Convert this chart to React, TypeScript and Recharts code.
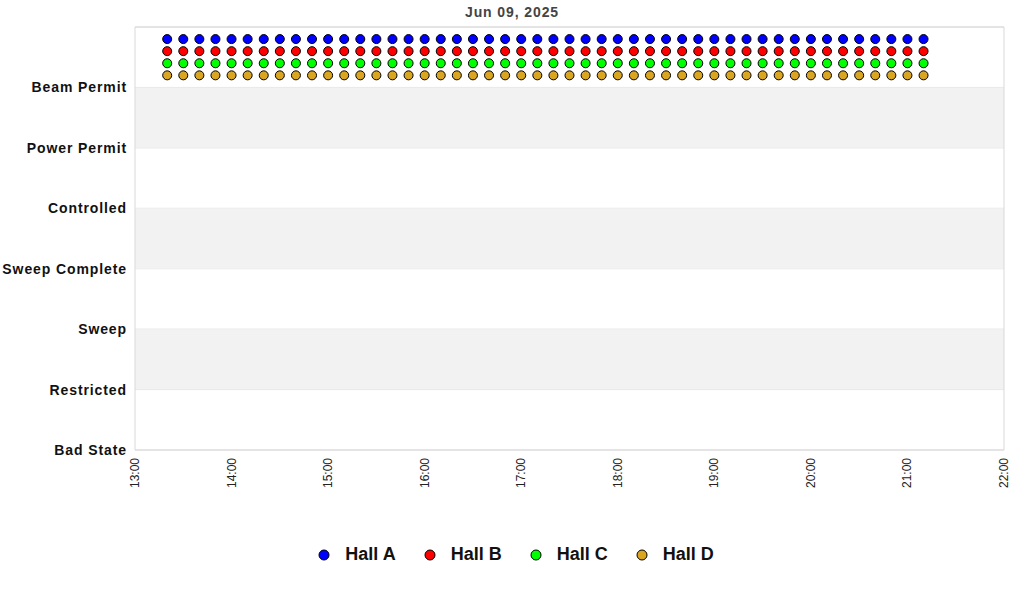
import React from "react"
import { ScatterChart, Scatter, XAxis, YAxis, CartesianGrid, ReferenceArea, Legend } from "recharts"

// minutes after midnight, one sample every 10 min
const times = [
  800, 810, 820, 830, 840, 850, 860, 870, 880, 890, 900, 910,
  920, 930, 940, 950, 960, 970, 980, 990, 1000, 1010, 1020, 1030,
  1040, 1050, 1060, 1070, 1080, 1090, 1100, 1110, 1120, 1130, 1140, 1150,
  1160, 1170, 1180, 1190, 1200, 1210, 1220, 1230, 1240, 1250, 1260, 1270,
]

// state index + small per-hall offset so the rows don't overlap
const hallA = [
  6.8, 6.8, 6.8, 6.8, 6.8, 6.8, 6.8, 6.8, 6.8, 6.8, 6.8, 6.8,
  6.8, 6.8, 6.8, 6.8, 6.8, 6.8, 6.8, 6.8, 6.8, 6.8, 6.8, 6.8,
  6.8, 6.8, 6.8, 6.8, 6.8, 6.8, 6.8, 6.8, 6.8, 6.8, 6.8, 6.8,
  6.8, 6.8, 6.8, 6.8, 6.8, 6.8, 6.8, 6.8, 6.8, 6.8, 6.8, 6.8,
]
const hallB = [
  6.6, 6.6, 6.6, 6.6, 6.6, 6.6, 6.6, 6.6, 6.6, 6.6, 6.6, 6.6,
  6.6, 6.6, 6.6, 6.6, 6.6, 6.6, 6.6, 6.6, 6.6, 6.6, 6.6, 6.6,
  6.6, 6.6, 6.6, 6.6, 6.6, 6.6, 6.6, 6.6, 6.6, 6.6, 6.6, 6.6,
  6.6, 6.6, 6.6, 6.6, 6.6, 6.6, 6.6, 6.6, 6.6, 6.6, 6.6, 6.6,
]
const hallC = [
  6.4, 6.4, 6.4, 6.4, 6.4, 6.4, 6.4, 6.4, 6.4, 6.4, 6.4, 6.4,
  6.4, 6.4, 6.4, 6.4, 6.4, 6.4, 6.4, 6.4, 6.4, 6.4, 6.4, 6.4,
  6.4, 6.4, 6.4, 6.4, 6.4, 6.4, 6.4, 6.4, 6.4, 6.4, 6.4, 6.4,
  6.4, 6.4, 6.4, 6.4, 6.4, 6.4, 6.4, 6.4, 6.4, 6.4, 6.4, 6.4,
]
const hallD = [
  6.2, 6.2, 6.2, 6.2, 6.2, 6.2, 6.2, 6.2, 6.2, 6.2, 6.2, 6.2,
  6.2, 6.2, 6.2, 6.2, 6.2, 6.2, 6.2, 6.2, 6.2, 6.2, 6.2, 6.2,
  6.2, 6.2, 6.2, 6.2, 6.2, 6.2, 6.2, 6.2, 6.2, 6.2, 6.2, 6.2,
  6.2, 6.2, 6.2, 6.2, 6.2, 6.2, 6.2, 6.2, 6.2, 6.2, 6.2, 6.2,
]

const stateLabels = ["Bad State", "Restricted", "Sweep", "Sweep Complete", "Controlled", "Power Permit", "Beam Permit"]
const stateTicks = [0, 1, 2, 3, 4, 5, 6]
const hourTicks = [780, 840, 900, 960, 1020, 1080, 1140, 1200, 1260, 1320]
const bands = [[1, 2], [3, 4], [5, 6]]

const series = [
  { name: "Hall A", color: "#0000ff", values: hallA },
  { name: "Hall B", color: "#ff0000", values: hallB },
  { name: "Hall C", color: "#00ff00", values: hallC },
  { name: "Hall D", color: "#daa520", values: hallD },
]

const fmtHour = (m: number) => `${Math.floor(m / 60)}:${String(m % 60).padStart(2, "0")}`

const Dot = (color: string) => (p: any) => (
  <circle cx={p.cx} cy={p.cy} r={4.5} fill={color} stroke="#000" strokeWidth={1} />
)

const XTick = (p: any) => (
  <text
    x={p.x}
    y={p.y}
    transform={`rotate(-90 ${p.x} ${p.y})`}
    textAnchor="end"
    dominantBaseline="central"
    fontSize={12}
    fill="#222"
  >
    {fmtHour(p.payload.value)}
  </text>
)

const LegendBox = () => (
  <div style={{ display: "flex", justifyContent: "center", alignItems: "center", gap: 28 }}>
    {series.map((s) => (
      <div key={s.name} style={{ display: "flex", alignItems: "center" }}>
        <svg width={12} height={12} style={{ marginRight: 15 }}>
          <circle cx={6} cy={6} r={5} fill={s.color} stroke="#000" strokeWidth={1} />
        </svg>
        <span style={{ fontSize: 18, fontWeight: "bold", color: "#111" }}>{s.name}</span>
      </div>
    ))}
  </div>
)

export default function App() {
  return (
    <div style={{ position: "absolute", left: 0, top: 0, width: 1024, height: 600, fontFamily: "'Liberation Sans', Arial, sans-serif", background: "#fff" }}>
      <div style={{ position: "absolute", top: 4, left: 0, width: 1024, textAlign: "center", fontSize: 14, fontWeight: "bold", letterSpacing: 0.9, color: "#444" }}>
        Jun 09, 2025
      </div>
      <ScatterChart width={1024} height={600} margin={{ top: 27, right: 20, bottom: 0, left: 0 }}>
        {bands.map(([a, b]) => (
          <ReferenceArea key={a} x1={780} x2={1320} y1={a} y2={b} fill="#f2f2f2" fillOpacity={1} stroke="none" />
        ))}
        <CartesianGrid vertical={false} stroke="#e0e0e0" />
        <ReferenceArea x1={780} x2={1320} y1={0} y2={7} fill="none" stroke="#d9d9d9" strokeWidth={1} />
        <XAxis
          type="number"
          dataKey="t"
          domain={[780, 1320]}
          ticks={hourTicks}
          interval={0}
          axisLine={false}
          tickLine={false}
          height={104}
          tick={<XTick />}
        />
        <YAxis
          type="number"
          dataKey="v"
          domain={[0, 7]}
          ticks={stateTicks}
          interval={0}
          width={135}
          axisLine={false}
          tickLine={false}
          tickFormatter={(v: number) => stateLabels[v] ?? ""}
          tick={{ fontSize: 14, fontWeight: "bold", fill: "#111", letterSpacing: 0.9 }}
        />
        {series.map((s) => (
          <Scatter
            key={s.name}
            name={s.name}
            data={times.map((t, i) => ({ t, v: s.values[i] }))}
            fill={s.color}
            shape={Dot(s.color)}
            isAnimationActive={false}
          />
        ))}
        <Legend
          verticalAlign="bottom"
          height={46}
          wrapperStyle={{ top: 544, left: 14 }}
          content={<LegendBox />}
        />
      </ScatterChart>
    </div>
  )
}
